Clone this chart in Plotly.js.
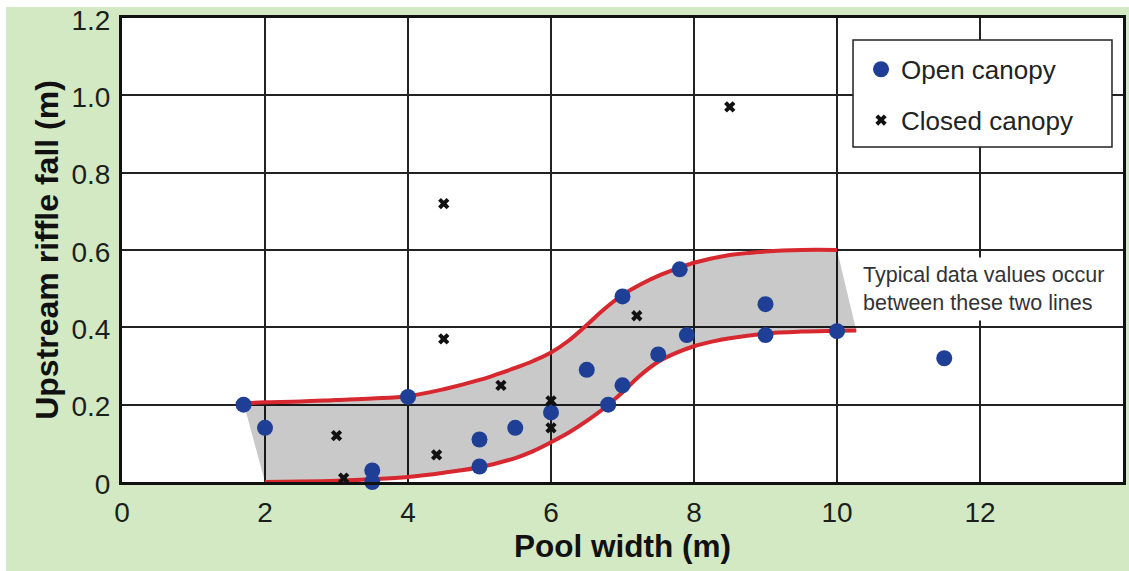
<!DOCTYPE html>
<html>
<head>
<meta charset="utf-8">
<script src="https://cdn.plot.ly/plotly-3.0.1.min.js"></script>
<style>
  html, body { margin: 0; padding: 0; background: #ffffff; }
  #bg { position: absolute; left: 6px; top: 7px; width: 1123px; height: 564px; background: #d3e9c4; }
  #chart { position: absolute; left: 0; top: 0; width: 1129px; height: 571px; }
</style>
</head>
<body>
<div id="bg"></div>
<div id="chart"></div>
<script>
// Open canopy observations
const openX = [1.7, 2.0, 4.0, 3.5, 3.5, 5.0, 5.0, 5.5, 6.0, 6.5, 6.8, 7.0, 7.0, 7.5, 7.8, 7.9, 9.0, 9.0, 10.0, 11.5];
const openY = [0.2, 0.14, 0.22, 0.03, 0.0, 0.11, 0.04, 0.14, 0.18, 0.29, 0.2, 0.48, 0.25, 0.33, 0.55, 0.38, 0.46, 0.38, 0.39, 0.32];

// Closed canopy observations
const closedX = [3.0, 3.1, 4.4, 4.5, 4.5, 5.3, 6.0, 6.0, 7.2, 8.5];
const closedY = [0.12, 0.01, 0.07, 0.37, 0.72, 0.25, 0.21, 0.14, 0.43, 0.97];

// Envelope lines (typical range)
const upperX = [1.7, 2.0, 2.5, 3.0, 3.5, 4.0, 4.5, 5.0, 5.25, 5.5, 5.75, 6.0, 6.25, 6.5, 6.75, 7.0, 7.25, 7.5, 7.75, 8.0, 8.5, 9.0, 9.5, 10.0];
const upperY = [0.204, 0.206, 0.208, 0.212, 0.216, 0.222, 0.240, 0.264, 0.279, 0.295, 0.313, 0.335, 0.366, 0.406, 0.448, 0.484, 0.511, 0.533, 0.551, 0.567, 0.587, 0.596, 0.600, 0.600];
const lowerX = [2.0, 2.5, 3.0, 3.5, 4.0, 4.5, 5.0, 5.5, 5.75, 6.0, 6.25, 6.5, 6.75, 7.0, 7.25, 7.5, 7.75, 8.0, 8.25, 8.5, 9.0, 9.5, 10.0, 10.27];
const lowerY = [0.0, 0.001, 0.003, 0.007, 0.013, 0.024, 0.038, 0.062, 0.080, 0.103, 0.128, 0.158, 0.192, 0.232, 0.276, 0.311, 0.334, 0.351, 0.363, 0.372, 0.384, 0.389, 0.391, 0.392];

// Tick labels
const xTickVals = [0, 2, 4, 6, 8, 10, 12];
const xTickText = ['0', '2', '4', '6', '8', '10', '12'];
const yTickVals = [0, 0.2, 0.4, 0.6, 0.8, 1.0, 1.2];
const yTickText = ['0', '0.2', '0.4', '0.6', '0.8', '1.0', '1.2'];

const FONT = 'Liberation Sans, Arial, Helvetica, sans-serif';
const RED = '#d7282f';

const traces = [
  {
    x: lowerX, y: lowerY, type: 'scatter', mode: 'lines',
    line: {color: RED, width: 4, shape: 'spline', smoothing: 1},
    showlegend: false, hoverinfo: 'skip'
  },
  {
    x: upperX, y: upperY, type: 'scatter', mode: 'lines',
    line: {color: RED, width: 4, shape: 'spline', smoothing: 1},
    fill: 'tonexty', fillcolor: 'rgba(0,0,0,0.21)',
    showlegend: false, hoverinfo: 'skip'
  },
  {
    x: openX, y: openY, type: 'scatter', mode: 'markers', name: 'Open canopy',
    legendgroup: 'a',
    marker: {symbol: 'circle', size: 16, color: '#1f3f96'},
    cliponaxis: false
  },
  {
    x: closedX, y: closedY, type: 'scatter', mode: 'markers', name: 'Closed canopy',
    legendgroup: 'b',
    marker: {symbol: 'x', size: 10, color: '#111111'},
    cliponaxis: false
  }
];

const layout = {
  width: 1129, height: 571,
  margin: {l: 122, r: 6, t: 18, b: 89},
  paper_bgcolor: 'rgba(0,0,0,0)',
  plot_bgcolor: '#ffffff',
  font: {family: FONT, color: '#1b1f1b'},
  xaxis: {
    range: [0, 14], tickvals: xTickVals, ticktext: xTickText,
    showgrid: true, gridcolor: '#222222', gridwidth: 2,
    showline: true, mirror: true, linecolor: '#111111', linewidth: 3,
    zeroline: false, ticks: '', tickfont: {size: 28, family: FONT},
    ticklabelstandoff: 3,
    title: {text: 'Pool width (m)', font: {size: 31.5, family: FONT, weight: 'bold', color: '#111'}, standoff: 2},
    automargin: false, fixedrange: true
  },
  yaxis: {
    range: [0, 1.2], tickvals: yTickVals, ticktext: yTickText,
    showgrid: true, gridcolor: '#222222', gridwidth: 2,
    showline: true, mirror: true, linecolor: '#111111', linewidth: 3,
    zeroline: false, ticks: '', tickfont: {size: 28, family: FONT},
    ticklabelstandoff: 3, ticklabelshift: 2,
    title: {text: 'Upstream riffle fall (m)', font: {size: 32, family: FONT, weight: 'bold', color: '#111'}, standoff: 4},
    automargin: false, fixedrange: true
  },
  showlegend: true,
  legend: {
    x: 0.7383, y: 0.94, xanchor: 'left', yanchor: 'top',
    bgcolor: 'rgba(0,0,0,0)', borderwidth: 0,
    font: {size: 26, family: FONT, color: '#222'},
    traceorder: 'grouped', tracegroupgap: 14, itemclick: false
  },
  shapes: [
    {type: 'rect', xref: 'paper', yref: 'paper', x0: 0.7303, x1: 0.989, y0: 0.722, y1: 0.9526,
     fillcolor: '#ffffff', line: {color: '#222222', width: 1.5}, layer: 'above'}
  ],
  annotations: [
    {x: 10.28, y: 0.5, xref: 'x', yref: 'y', xanchor: 'left', yanchor: 'middle',
     text: 'Typical data values occur<br>between these two lines', align: 'left',
     showarrow: false, bgcolor: '#ffffff', borderpad: 5,
     font: {size: 21.5, family: FONT, color: '#333333'}}
  ]
};

Plotly.newPlot('chart', traces, layout, {displayModeBar: false, staticPlot: true});
</script>
</body>
</html>
